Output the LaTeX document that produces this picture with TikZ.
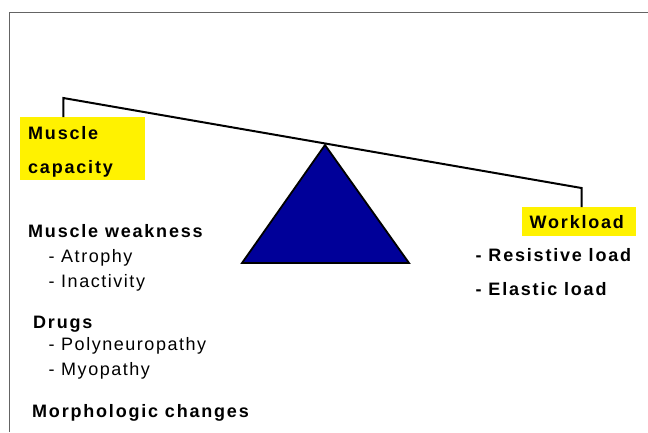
\documentclass[tikz,border=0pt]{standalone}
\usepackage{fontspec}
\setmainfont{Liberation Sans}
\newfontfamily\bsp{Liberation Sans}[LetterSpace=10]
\newfontfamily\rsp{Liberation Sans}[LetterSpace=8.5]
\definecolor{tri}{RGB}{0,0,153}
\definecolor{frame}{RGB}{100,100,100}
\begin{document}
\begin{tikzpicture}[x=1pt,y=-1pt,
  ybox/.style={fill=yellow, inner sep=0pt, anchor=north west},
  btxt/.style={anchor=base west, inner sep=0pt, font=\bsp\bfseries\fontsize{18}{21}\selectfont},
  rtxt/.style={anchor=base west, inner sep=0pt, font=\rsp\fontsize{18}{21}\selectfont},
  beam/.style={line width=2pt, line join=miter}]
\useasboundingbox (0,0) rectangle (648,432);
\draw[frame, line width=1pt] (9,432) |- (648,12.5);
% boxes
\node[ybox, minimum width=125pt, minimum height=63pt] (mc) at (20,117) {};
\node[ybox, minimum width=114pt, minimum height=28.5pt] (wl) at (522,207) {};
% beam
\coordinate (bl) at (63.3,98);
\coordinate (br) at (581.5,188);
\draw[beam] (mc.north -| bl) -- (bl) -- (br) -- (br |- wl.north);
% fulcrum
\draw[fill=tri, line width=1.8pt, line join=miter] (325,145) -- (409,263) -- (242,263) -- cycle;
% texts
\node[btxt] (t1) at (28,139) {Muscle};
\node[btxt] (t2) at (28,173) {capacity};
\node[btxt] (t3) at (529.5,228.3) {Workload};
\node[btxt] (t4) at (475.5,261) {- Resistive load};
\node[btxt] (t5) at (475.5,295) {- Elastic load};
\node[btxt] (t6) at (28,237.5) {Muscle weakness};
\node[rtxt] (t7) at (48.5,262.5) {- Atrophy};
\node[rtxt] (t8) at (48.5,287) {- Inactivity};
\node[btxt] (t9) at (33,328) {Drugs};
\node[rtxt] (t10) at (48.5,350.5) {- Polyneuropathy};
\node[rtxt] (t11) at (48.5,375.5) {- Myopathy};
\node[btxt] (t12) at (32,417) {Morphologic changes};
\end{tikzpicture}
\end{document}
